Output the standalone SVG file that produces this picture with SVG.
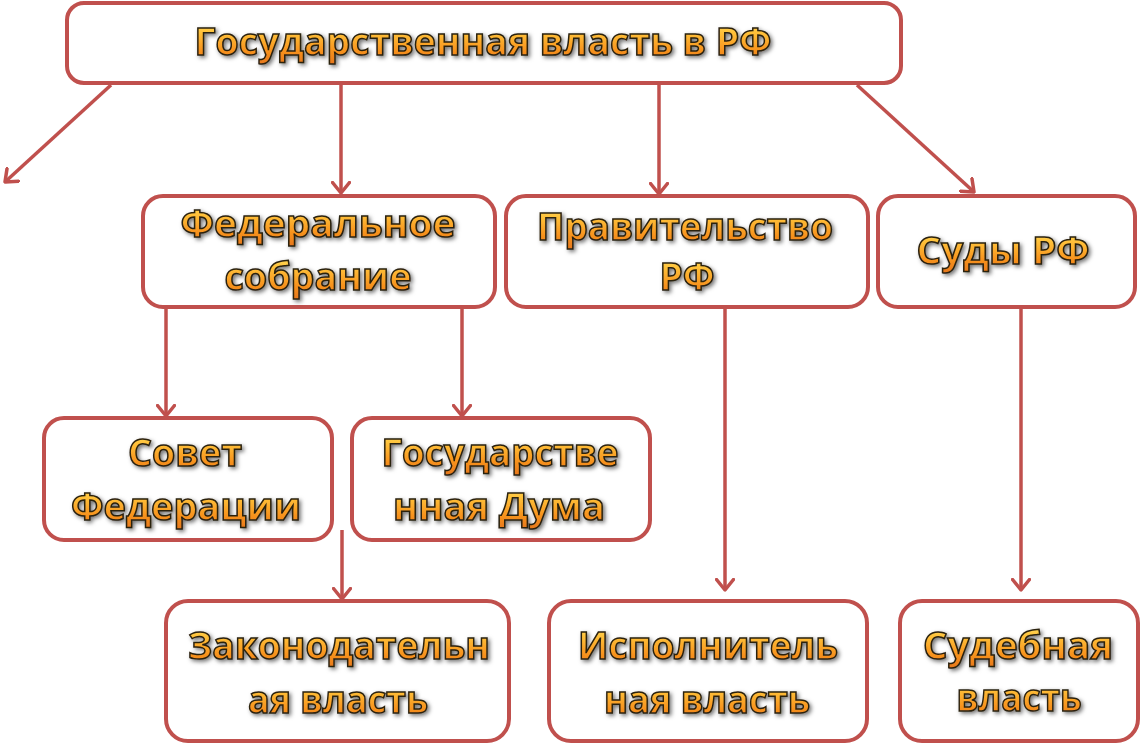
<svg xmlns="http://www.w3.org/2000/svg" width="1147" height="745" viewBox="0 0 1147 745">
<defs>
<linearGradient id="tg" x1="0" y1="0" x2="0" y2="1">
<stop offset="0" stop-color="#fff07a"/>
<stop offset="0.35" stop-color="#ffc23a"/>
<stop offset="0.7" stop-color="#f7931e"/>
<stop offset="1" stop-color="#e4731a"/>
</linearGradient>
<filter id="sh" x="-10%" y="-30%" width="120%" height="160%">
<feGaussianBlur in="SourceAlpha" stdDeviation="2"/>
<feOffset dx="1.5" dy="2" result="b"/>
<feFlood flood-color="#000" flood-opacity="0.55"/>
<feComposite in2="b" operator="in" result="s"/>
<feMerge><feMergeNode in="s"/><feMergeNode in="SourceGraphic"/></feMerge>
</filter>
<marker id="ah" viewBox="0 0 14 20" refX="12" refY="10" markerWidth="14" markerHeight="20" markerUnits="userSpaceOnUse" orient="auto">
<path d="M1.5,1.5 L12,10 L1.5,18.5" fill="none" stroke="#c0504d" stroke-width="3.5" stroke-linecap="round" stroke-linejoin="round"/>
</marker>
</defs>
<style>
.box{fill:#fff;stroke:#c0504d;stroke-width:4}
.lbl{font-family:"Open Sans","Noto Sans","DejaVu Sans",sans-serif;font-weight:bold;font-size:38px;text-anchor:middle;fill:url(#tg);stroke:#2a2010;stroke-width:1.5px;paint-order:fill;filter:url(#sh)}
.con{stroke:#c0504d;stroke-width:3.5;fill:none;marker-end:url(#ah)}
</style>
<rect width="1147" height="745" fill="#fff"/>
<g id="connectors">
<line class="con" x1="111" y1="85" x2="5" y2="182"/>
<line class="con" x1="341" y1="85" x2="341" y2="193"/>
<line class="con" x1="659" y1="85" x2="659" y2="194"/>
<line class="con" x1="857" y1="85" x2="974" y2="192"/>
<line class="con" x1="166" y1="309" x2="166" y2="416"/>
<line class="con" x1="462" y1="309" x2="462" y2="416"/>
<line class="con" x1="342" y1="530" x2="342" y2="599"/>
<line class="con" x1="725" y1="309" x2="725" y2="590"/>
<line class="con" x1="1021" y1="309" x2="1021" y2="590"/>
</g>
<g id="n-top">
<rect class="box" x="67" y="3" width="834" height="80" rx="17"/>
<text class="lbl" x="483" y="55" textLength="577" lengthAdjust="spacingAndGlyphs">Государственная власть в РФ</text>
</g>
<g id="n-fed">
<rect class="box" x="143" y="196" width="352" height="111" rx="20"/>
<text class="lbl" x="318" y="237" textLength="275" lengthAdjust="spacingAndGlyphs">Федеральное</text>
<text class="lbl" x="318" y="290" textLength="187" lengthAdjust="spacingAndGlyphs">собрание</text>
</g>
<g id="n-gov">
<rect class="box" x="506" y="196" width="362" height="111" rx="20"/>
<text class="lbl" x="685" y="240" textLength="296" lengthAdjust="spacingAndGlyphs">Правительство</text>
<text class="lbl" x="687" y="290" textLength="55" lengthAdjust="spacingAndGlyphs">РФ</text>
</g>
<g id="n-courts">
<rect class="box" x="878" y="196" width="257" height="111" rx="20"/>
<text class="lbl" x="1003" y="264" textLength="173" lengthAdjust="spacingAndGlyphs">Суды РФ</text>
</g>
<g id="n-sovet">
<rect class="box" x="44" y="418" width="288" height="122" rx="20"/>
<text class="lbl" x="185" y="466" textLength="114" lengthAdjust="spacingAndGlyphs">Совет</text>
<text class="lbl" x="186" y="520" textLength="230" lengthAdjust="spacingAndGlyphs">Федерации</text>
</g>
<g id="n-duma">
<rect class="box" x="352" y="418" width="298" height="122" rx="20"/>
<text class="lbl" x="500" y="466" textLength="237" lengthAdjust="spacingAndGlyphs">Государстве</text>
<text class="lbl" x="499" y="520" textLength="212" lengthAdjust="spacingAndGlyphs">нная Дума</text>
</g>
<g id="n-leg">
<rect class="box" x="166" y="601" width="343" height="140" rx="22"/>
<text class="lbl" x="339" y="659" textLength="302" lengthAdjust="spacingAndGlyphs">Законодательн</text>
<text class="lbl" x="338" y="713" textLength="180" lengthAdjust="spacingAndGlyphs">ая власть</text>
</g>
<g id="n-exec">
<rect class="box" x="549" y="601" width="318" height="140" rx="22"/>
<text class="lbl" x="708" y="659" textLength="260" lengthAdjust="spacingAndGlyphs">Исполнитель</text>
<text class="lbl" x="707" y="713" textLength="206" lengthAdjust="spacingAndGlyphs">ная власть</text>
</g>
<g id="n-jud">
<rect class="box" x="900" y="601" width="238" height="140" rx="22"/>
<text class="lbl" x="1018" y="659" textLength="190" lengthAdjust="spacingAndGlyphs">Судебная</text>
<text class="lbl" x="1019" y="711" textLength="125" lengthAdjust="spacingAndGlyphs">власть</text>
</g>
</svg>
